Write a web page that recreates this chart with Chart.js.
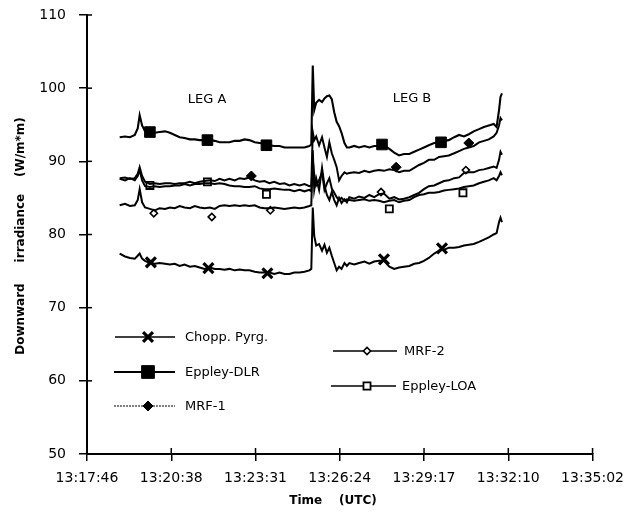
<!DOCTYPE html>
<html lang="en">
<head>
<meta charset="UTF-8" />
<title>Downward irradiance</title>
<script src="https://cdn.jsdelivr.net/npm/chart.js@4.4.1/dist/chart.umd.min.js"></script>
<style>
  html, body { margin:0; padding:0; background:#fff; }
  #wrap { width:633px; height:517px; }
</style>
</head>
<body>
<div id="wrap"><canvas id="irr_chart" width="633" height="517"></canvas></div>
<script>
// time axis: seconds after 13:17:46 UTC, tick every 0.002 day (172.8 s)
const tickSecs = [0, 172.8, 345.6, 518.4, 691.2, 864, 1036.8];
const tickLabels = ['13:17:46', '13:20:38', '13:23:31', '13:26:24', '13:29:17', '13:32:10', '13:35:02'];
const yTicks = [50, 60, 70, 80, 90, 100, 110];

// sample times (s)
const tSec = [
  67, 78, 88, 98, 104, 108, 113, 119, 129, 139,
  149, 160, 170, 180, 190, 200, 211, 221, 231, 241,
  252, 262, 272, 282, 292, 303, 313, 323, 333, 344,
  354, 364, 374, 384, 395, 405, 415, 425, 436, 446,
  456, 460, 463, 466, 470, 476, 482, 487, 492, 497,
  502, 507, 512, 517, 522, 528, 533, 538, 548, 558,
  569, 579, 589, 599, 609, 620, 630, 640, 650, 661,
  671, 681, 691, 701, 712, 722, 732, 742, 753, 763,
  773, 783, 793, 804, 814, 824, 834, 840, 845, 848,
  851
];

// W/m*m
const choppPyrg = [
  77.4, 77.0, 76.8, 76.7, 77.1, 77.4, 76.7, 76.4, 76.1, 76.0,
  76.1, 76.0, 75.9, 76.0, 75.7, 75.9, 75.6, 75.7, 75.5, 75.3,
  75.5, 75.3, 75.3, 75.2, 75.3, 75.1, 75.2, 75.1, 75.1, 74.9,
  74.8, 74.8, 74.8, 74.6, 74.8, 74.6, 74.6, 74.8, 74.8, 74.9,
  75.1, 75.3, 83.7, 79.8, 78.5, 78.7, 77.8, 78.6, 77.5, 78.2,
  77.1, 76.1, 75.1, 75.6, 75.3, 76.1, 75.7, 76.1, 75.9, 76.1,
  76.3, 76.0, 76.3, 76.4, 76.4, 75.6, 75.3, 75.5, 75.6, 75.7,
  76.0, 76.1, 76.4, 76.8, 77.4, 77.8, 77.9, 78.2, 78.2, 78.3,
  78.5, 78.6, 78.7, 79.0, 79.3, 79.6, 80.0, 80.2, 81.7, 82.3,
  81.7
];
const eppleyDLR = [
  93.3, 93.4, 93.3, 93.6, 94.5, 96.3, 94.9, 94.1, 94.0, 93.9,
  94.0, 94.1, 93.9, 93.6, 93.3, 93.2, 93.0, 93.0, 92.9, 92.9,
  92.9, 92.8, 92.6, 92.6, 92.6, 92.8, 92.8, 93.0, 92.9, 92.6,
  92.5, 92.4, 92.2, 92.1, 92.1, 91.9, 91.9, 91.9, 91.9, 91.9,
  92.1, 92.3, 103.1, 97.0, 98.0, 98.4, 98.1, 98.6, 98.9, 99.0,
  98.5, 96.7, 95.4, 94.8, 93.9, 92.5, 91.9, 91.9, 92.1, 91.9,
  92.1, 91.9, 92.1, 92.1, 92.2, 91.7, 91.2, 90.8, 91.0, 91.0,
  91.3, 91.6, 91.9, 92.2, 92.5, 92.6, 92.8, 92.9, 93.3, 93.6,
  93.4, 93.7, 94.1, 94.4, 94.7, 94.9, 95.1, 94.7, 97.0, 98.8,
  99.3
];
const mrf1 = [
  87.7, 87.8, 87.6, 87.7, 88.3, 89.2, 88.0, 87.2, 86.9, 87.0,
  86.9, 87.0, 87.0, 86.9, 87.0, 87.0, 87.2, 87.0, 87.2, 87.3,
  87.4, 87.3, 87.6, 87.4, 87.6, 87.4, 87.7, 87.6, 87.8, 87.4,
  87.2, 87.3, 87.0, 87.2, 86.9, 87.0, 86.7, 86.9, 86.7, 86.9,
  86.6, 86.7, 94.0, 92.9, 93.4, 92.2, 93.3, 91.9, 90.6, 92.6,
  91.1, 90.2, 89.2, 87.4, 88.0, 88.5, 88.3, 88.4, 88.5, 88.4,
  88.7, 88.5, 88.7, 88.8, 88.7, 88.9, 88.8, 88.5, 88.7, 88.7,
  89.1, 89.5, 89.8, 90.2, 90.2, 90.6, 90.7, 90.8, 91.1, 91.4,
  91.7, 91.9, 92.1, 92.6, 92.8, 93.0, 93.4, 93.9, 94.9, 95.9,
  95.6
];
const mrf2 = [
  84.0, 84.2, 83.9, 84.0, 84.7, 86.2, 84.4, 83.7, 83.5, 83.3,
  83.6, 83.5, 83.7, 83.6, 83.9, 83.7, 83.6, 83.9, 83.7, 83.6,
  83.7, 83.5, 83.9, 84.0, 83.9, 84.0, 83.9, 84.0, 83.9, 84.0,
  83.7, 83.6, 83.6, 83.7, 83.6, 83.5, 83.6, 83.7, 83.6, 83.7,
  83.9, 84.0, 91.5, 86.1, 87.7, 86.1, 89.1, 86.7, 85.4, 84.7,
  85.8, 84.7, 84.0, 85.0, 84.3, 84.8, 84.4, 85.1, 84.9, 85.2,
  85.0, 85.4, 85.1, 85.5, 85.6, 84.9, 85.1, 84.8, 84.9, 85.1,
  85.4, 85.7, 86.2, 86.6, 86.7, 87.0, 87.3, 87.4, 87.7, 87.8,
  88.4, 88.5, 88.5, 88.8, 88.9, 89.1, 89.3, 89.1, 90.2, 91.3,
  90.9
];
const eppleyLOA = [
  87.6, 87.4, 87.7, 87.4, 88.0, 88.8, 87.4, 86.6, 86.5, 86.6,
  86.5, 86.6, 86.6, 86.7, 86.7, 86.9, 86.7, 86.9, 86.9, 87.0,
  87.0, 86.9, 87.0, 86.9, 86.7, 86.6, 86.6, 86.5, 86.5, 86.6,
  86.3, 86.2, 86.2, 86.3, 86.2, 86.1, 86.1, 85.9, 86.1, 85.9,
  86.1, 85.9, 90.2, 88.1, 86.7, 87.4, 88.5, 86.1, 87.0, 87.7,
  86.3, 85.7, 85.1, 84.7, 85.0, 84.6, 84.8, 84.7, 84.6, 84.7,
  84.8, 84.6, 84.7, 84.6, 84.4, 84.6, 84.7, 84.4, 84.6, 84.7,
  85.1, 85.4, 85.5, 85.7, 85.7, 85.8, 86.0, 86.1, 86.2, 86.3,
  86.5, 86.6, 86.7, 87.0, 87.2, 87.4, 87.7, 87.4, 88.0, 88.5,
  88.1
];

// marker positions (time s, value)
const choppMarkT = [131, 249, 370, 609, 728];
const choppMarkV = [76.2, 75.4, 74.7, 76.6, 78.1];
const dlrMarkT = [129, 247, 368, 605, 726];
const dlrMarkV = [94.0, 92.9, 92.2, 92.3, 92.6];
const mrf1MarkT = [337, 634, 783];
const mrf1MarkV = [88.0, 89.2, 92.5];
const mrf2MarkT = [137, 256, 376, 603, 777];
const mrf2MarkV = [82.9, 82.4, 83.3, 85.8, 88.8];
const loaMarkT = [129, 247, 368, 620, 771];
const loaMarkV = [86.7, 87.2, 85.5, 83.5, 85.7];

const FONT = "'DejaVu Sans', sans-serif";

function pts(ts, vs) {
  return ts.map((t, i) => ({ x: t, y: vs[i] }));
}

function lineSet(label, vals, width) {
  return {
    label: label,
    data: pts(tSec, vals),
    borderColor: '#000',
    borderWidth: width,
    pointRadius: 0,
    tension: 0,
    fill: false
  };
}

function markSet(label, ts, vs, style, r, filled, bw) {
  return {
    label: label,
    data: pts(ts, vs),
    showLine: false,
    pointStyle: style,
    pointRadius: r,
    pointHoverRadius: r,
    pointBorderColor: '#000',
    pointBackgroundColor: filled ? '#000' : '#fff',
    pointBorderWidth: bw
  };
}

// legend entries: which style each name gets
const legendItems = [
  { name: 'Chopp. Pyrg.', style: 'crossRot', r: 7, fill: true, bw: 3.2, lw: 1.3, x0: 115, x1: 175, mx: 148, tx: 185, y: 337 },
  { name: 'Eppley-DLR', style: 'rect', r: 9, fill: true, bw: 1, lw: 2, x0: 114, x1: 175, mx: 148, tx: 185, y: 372 },
  { name: 'MRF-1', style: 'rectRot', r: 5, fill: true, bw: 1, lw: 1, dash: [2, 1], x0: 114, x1: 175, mx: 148, tx: 185, y: 406 },
  { name: 'MRF-2', style: 'rectRot', r: 3.6, fill: false, bw: 1.6, lw: 1.5, x0: 333, x1: 397, mx: 367, tx: 404, y: 351 },
  { name: 'Eppley-LOA', style: 'rect', r: 5, fill: false, bw: 1.8, lw: 1.5, x0: 331, x1: 396, mx: 367, tx: 402, y: 386 }
];

function drawMarker(ctx, it, x, y) {
  ctx.save();
  ctx.strokeStyle = '#000';
  ctx.fillStyle = it.fill ? '#000' : '#fff';
  ctx.lineWidth = it.bw;
  ctx.setLineDash([]);
  if (Chart.helpers && Chart.helpers.drawPoint) {
    Chart.helpers.drawPoint(ctx, { pointStyle: it.style, radius: it.r, rotation: 0, borderWidth: it.bw }, x, y);
  }
  ctx.restore();
}

const decorPlugin = {
  id: 'decor',
  afterDraw(chart) {
    const ctx = chart.ctx;
    const xs = chart.scales.x, ys = chart.scales.y;
    const a = chart.chartArea;
    ctx.save();
    ctx.strokeStyle = '#000';
    ctx.lineWidth = 1.5;
    // inner tick stubs
    tickSecs.forEach(v => {
      const px = xs.getPixelForValue(v);
      ctx.beginPath(); ctx.moveTo(px, a.bottom); ctx.lineTo(px, a.bottom - 6); ctx.stroke();
    });
    yTicks.forEach(v => {
      const py = ys.getPixelForValue(v);
      ctx.beginPath(); ctx.moveTo(a.left, py); ctx.lineTo(a.left + 5, py); ctx.stroke();
    });
    // leg labels
    ctx.fillStyle = '#000';
    ctx.font = '13px ' + FONT;
    ctx.textAlign = 'center';
    ctx.textBaseline = 'middle';
    ctx.fillText('LEG A', 207, 100);
    ctx.fillText('LEG B', 412, 99);
    // axis titles
    ctx.font = 'bold 12px ' + FONT;
    ctx.fillText('Time    (UTC)', 333, 501);
    ctx.save();
    ctx.translate(21, 236);
    ctx.rotate(-Math.PI / 2);
    ctx.fillText('Downward     irradiance    (W/m*m)', 0, 0);
    ctx.restore();
    // legend
    legendItems.forEach(it => {
      ctx.save();
      ctx.lineWidth = it.lw;
      ctx.setLineDash(it.dash || []);
      ctx.beginPath(); ctx.moveTo(it.x0, it.y); ctx.lineTo(it.x1, it.y); ctx.stroke();
      ctx.restore();
      drawMarker(ctx, it, it.mx, it.y);
      ctx.font = '13px ' + FONT;
      ctx.textAlign = 'left';
      ctx.fillText(it.name, it.tx, it.y + 1);
    });
    ctx.restore();
  }
};

new Chart(document.getElementById('irr_chart'), {
  type: 'line',
  data: {
    datasets: [
      lineSet('Chopp. Pyrg.', choppPyrg, 2),
      lineSet('Eppley-DLR', eppleyDLR, 2.1),
      lineSet('MRF-1', mrf1, 2),
      lineSet('MRF-2', mrf2, 2),
      lineSet('Eppley-LOA', eppleyLOA, 2),
      markSet('Chopp. Pyrg. marks', choppMarkT, choppMarkV, 'crossRot', 7, true, 3.2),
      markSet('Eppley-DLR marks', dlrMarkT, dlrMarkV, 'rect', 7.5, true, 1),
      markSet('MRF-1 marks', mrf1MarkT, mrf1MarkV, 'rectRot', 5, true, 1),
      markSet('MRF-2 marks', mrf2MarkT, mrf2MarkV, 'rectRot', 3.6, false, 1.6),
      markSet('Eppley-LOA marks', loaMarkT, loaMarkV, 'rect', 5, false, 1.8)
    ]
  },
  options: {
    responsive: false,
    animation: false,
    events: [],
    layout: { padding: { top: 15, right: 39, left: 0, bottom: 0 } },
    plugins: { legend: { display: false }, tooltip: { enabled: false } },
    scales: {
      x: {
        type: 'linear',
        min: 0,
        max: 1036.8,
        afterBuildTicks: s => { s.ticks = tickSecs.map(v => ({ value: v })); },
        afterFit: s => { s.height = 63; },
        border: { display: true, color: '#000', width: 2 },
        grid: { display: true, drawOnChartArea: false, drawTicks: true, tickLength: 7, color: '#000', lineWidth: 1.5 },
        ticks: {
          autoSkip: false, maxRotation: 0, padding: 9, color: '#000',
          font: { family: FONT, size: 14 },
          callback: v => tickLabels[Math.round(v / 172.8)]
        }
      },
      y: {
        min: 50,
        max: 110,
        afterBuildTicks: s => { s.ticks = yTicks.map(v => ({ value: v })); },
        afterFit: s => { s.width = 87; s.paddingTop = 0; },
        border: { display: true, color: '#000', width: 2 },
        grid: { display: true, drawOnChartArea: false, drawTicks: true, tickLength: 8, color: '#000', lineWidth: 1.5 },
        ticks: { padding: 13, color: '#000', font: { family: FONT, size: 14 } }
      }
    }
  },
  plugins: [decorPlugin]
});
</script>
</body>
</html>
